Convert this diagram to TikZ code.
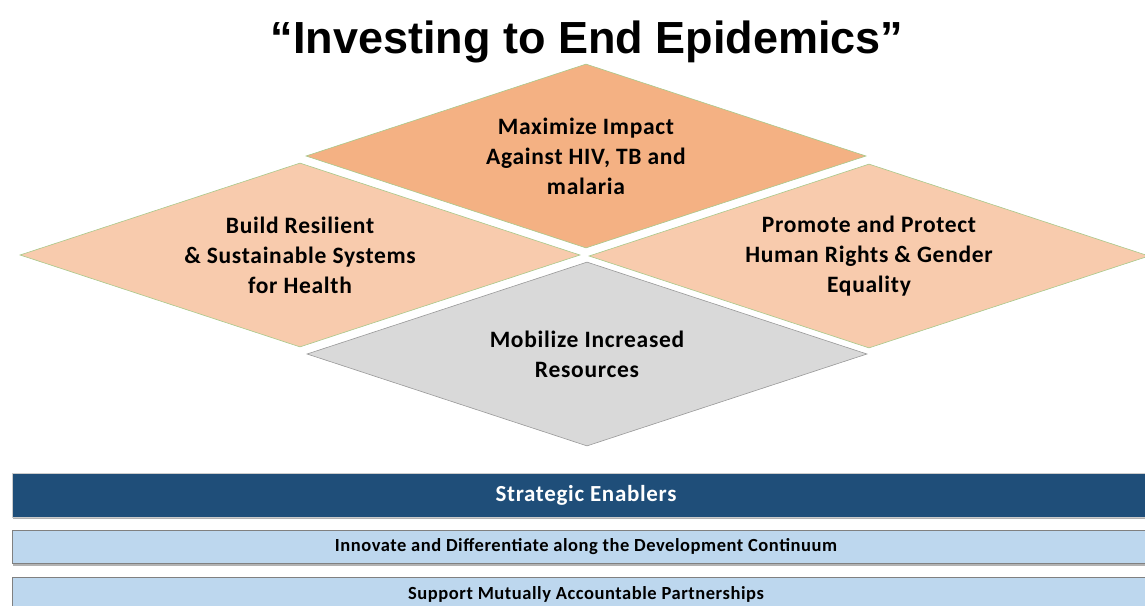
\documentclass[tikz,border=0pt]{standalone}
\usepackage{fontspec}
\setmainfont{Carlito}
\newfontfamily\titlefont{Liberation Sans}
\newfontfamily\barfont[LetterSpace=3]{Carlito}
\usepackage{tikz}
\usetikzlibrary{shapes.geometric,shadows}

\definecolor{impactorange}{HTML}{F4B183}
\definecolor{lightorange}{HTML}{F8CBAD}
\definecolor{resgray}{HTML}{D9D9D9}
\definecolor{edgegreen}{HTML}{A9C98A}
\definecolor{enablerblue}{HTML}{1F4E79}
\definecolor{barblue}{HTML}{BDD7EE}

\begin{document}
\begin{tikzpicture}[x=1pt, y=-1pt,
  goal/.style={diamond, aspect=3, inner sep=0pt, minimum width=560pt, minimum height=184pt,
    draw=edgegreen, line width=0.6pt, align=center,
    font=\barfont\fontsize{23.5}{30}\selectfont\bfseries},
  bar/.style={rectangle, minimum width=1148pt, inner sep=0pt, draw=gray, line width=1pt,
    drop shadow={shadow xshift=0.5pt, shadow yshift=-2pt, fill=gray, opacity=0.6}}]
\clip (0,0) rectangle (1145,605);
\useasboundingbox (0,0) rectangle (1145,605);
\fill[white] (0,0) rectangle (1145,605);

\node[anchor=base, font=\titlefont\fontsize{45}{50}\selectfont\bfseries] (title) at (587,53)
  {“Investing to End Epidemics”};

% the four goals
\node[goal, fill=impactorange] (impact) at (586,156) {Maximize Impact\\Against HIV, TB and\\malaria};
\node[goal, fill=lightorange] (systems) at (300,255) {Build Resilient\\\& Sustainable Systems\\for Health};
\node[goal, fill=lightorange] (rights) at (869,256) {Promote and Protect\\Human Rights \& Gender\\Equality};
\node[goal, fill=resgray, draw=gray!80] (resources) at (587,354) {Mobilize Increased\\Resources};

% enablers
\node[bar, fill=enablerblue, draw=gray!40, minimum height=44pt, text=white,
  font=\barfont\fontsize{23}{26}\selectfont\bfseries] (enablers) at (586,495) {Strategic Enablers};
\node[bar, fill=barblue, minimum height=33pt, font=\barfont\fontsize{18.5}{22}\selectfont\bfseries]
  (innovate) at (586,547) {Innovate and Differentiate along the Development Continuum};
\node[bar, fill=barblue, minimum height=34pt, font=\barfont\fontsize{18.5}{22}\selectfont\bfseries]
  (partners) at (586,594) {Support Mutually Accountable Partnerships};
\end{tikzpicture}
\end{document}
